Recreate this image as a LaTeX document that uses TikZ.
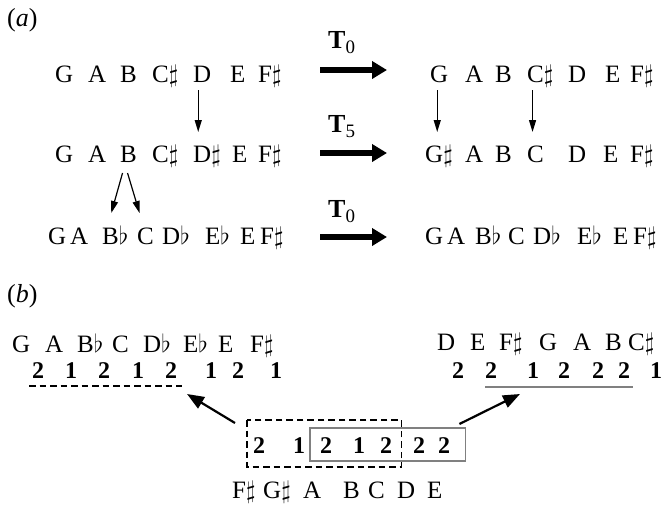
\documentclass[tikz,border=0pt]{standalone}
\usepackage{fontspec}
\setmainfont{Liberation Serif}
\usetikzlibrary{arrows.meta,calc}
\newcommand{\shp}{\ensuremath{\sharp}}
\newcommand{\flt}{\ensuremath{\flat}}
\newcommand{\notefont}{\fontsize{25}{30}\selectfont}
\newcommand{\numfont}{\fontsize{24}{28}\selectfont\bfseries}
\newcommand{\tlab}[1]{{\fontsize{26}{30}\selectfont\bfseries T}\raisebox{-5pt}{\fontsize{19}{20}\selectfont #1}}
\begin{document}
\begin{tikzpicture}[x=1pt,y=-1pt,
  nt/.style={font=\notefont, inner sep=0pt, anchor=base west},
  num/.style={font=\numfont, inner sep=0pt, anchor=base west},
  lab/.style={font=\fontsize{26}{30}\selectfont, inner sep=0pt, anchor=base west},
  thinarrow/.style={line width=1.2pt, -{Triangle[length=12pt,width=7pt]}},
  fatarrow/.style={line width=6pt, -{Triangle[length=15pt,width=17pt]}},
  diagarrow/.style={line width=2.2pt, -{Triangle[length=17pt,width=13pt]}},
  dashbox/.style={line width=1.4pt, dash pattern=on 6.5pt off 4pt},
  graybox/.style={line width=1.5pt, draw=gray}]
\useasboundingbox (0,0) rectangle (663,506);

% ---------- (a) ----------
\node[lab] (la) at (7,27) {(\textit{a})};

\foreach \n/\x/\t in {1/55/G,2/88/A,3/120/B,4/152/{C\shp},5/193/D,6/230/E,7/258/{F\shp}}
  \node[nt] (aL1-\n) at (\x,82) {\t};
\foreach \n/\x/\t in {1/55/G,2/88/A,3/120/B,4/152/{C\shp},5/193/{D\shp},6/232/E,7/258/{F\shp}}
  \node[nt] (aL2-\n) at (\x,162) {\t};
\foreach \n/\x/\t in {1/48/G,2/70/A,3/102/{B\flt},4/137/C,5/162/{D\flt},6/205/{E\flt},7/240/E,8/260/{F\shp}}
  \node[nt] (aL3-\n) at (\x,244) {\t};

\foreach \n/\x/\t in {1/430/G,2/465/A,3/495/B,4/527/{C\shp},5/568/D,6/605/E,7/630/{F\shp}}
  \node[nt] (aR1-\n) at (\x,82) {\t};
\foreach \n/\x/\t in {1/425/{G\shp},2/465/A,3/495/B,4/527/C,5/568/D,6/603/E,7/630/{F\shp}}
  \node[nt] (aR2-\n) at (\x,162) {\t};
\foreach \n/\x/\t in {1/425/G,2/447/A,3/475/{B\flt},4/508/C,5/533/{D\flt},6/577/{E\flt},7/613/E,8/633/{F\shp}}
  \node[nt] (aR3-\n) at (\x,244) {\t};

% transformation labels and arrows
\node[lab] (t1) at (328,48) {\tlab{0}};
\node[lab] (t2) at (328,132) {\tlab{5}};
\node[lab] (t3) at (328,217) {\tlab{0}};
\coordinate (f1s) at (320,70);  \coordinate (f1e) at (387,70);
\coordinate (f2s) at (320,153); \coordinate (f2e) at (387,153);
\coordinate (f3s) at (320,237); \coordinate (f3e) at (387,237);
\draw[fatarrow] (f1s) -- (f1e);
\draw[fatarrow] (f2s) -- (f2e);
\draw[fatarrow] (f3s) -- (f3e);

% small arrows
\draw[thinarrow] ($(aL1-5.base)+(-4,8)$) -- ($(aL1-5.base |- aL2-5.base)+(-4,-30)$);
\draw[thinarrow] ($(aL2-3.base)+(-6,11)$) -- ($(aL3-3.base)+(-4,-31)$);
\draw[thinarrow] ($(aL2-3.base)+(-1,11)$) -- ($(aL3-4.base)+(-6,-31)$);
\draw[thinarrow] ($(aR1-1.base)+(-2,8)$) -- ($(aR1-1.base |- aR2-1.base)+(-2,-30)$);
\draw[thinarrow] ($(aR2-4.base |- aR1-4.base)+(-3,8)$) -- ($(aR2-4.base)+(-3,-30)$);

% ---------- (b) ----------
\node[lab] (lb) at (7,302) {(\textit{b})};

\foreach \n/\x/\t in {1/12/G,2/45/A,3/77/{B\flt},4/112/C,5/143/{D\flt},6/183/{E\flt},7/218/E,8/250/{F\shp}}
  \node[nt] (bL-\n) at (\x,352) {\t};
\foreach \n/\x/\t in {1/32/2,2/65/1,3/98/2,4/132/1,5/165/2,6/205/1,7/232/2,8/270/1}
  \node[num] (bLn-\n) at (\x,378) {\t};

\foreach \n/\x/\t in {1/437/D,2/470/E,3/499/{F\shp},4/539/G,5/573/A,6/605/B,7/628/{C\shp}}
  \node[nt] (bR-\n) at (\x,350) {\t};
\foreach \n/\x/\t in {1/452/2,2/485/2,3/527/1,4/558/2,5/592/2,6/618/2,7/650/1}
  \node[num] (bRn-\n) at (\x,378) {\t};

\foreach \n/\x/\t in {1/253/2,2/293/1,3/320/2,4/353/1,5/380/2,6/413/2,7/438/2}
  \node[num] (bC-\n) at (\x,453) {\t};
\foreach \n/\x/\t in {1/232/{F\shp},2/263/{G\shp},3/303/A,4/343/B,5/368/C,6/397/D,7/427/E}
  \node[nt] (bB-\n) at (\x,498) {\t};

% underlines
\draw[dashbox] ($(bLn-1.base west)+(-3,8)$) -- ($(bLn-5.base east)+(5,8)$);
\draw[graybox] ($(bRn-2.base west)+(0,9)$) -- ($(bRn-6.base east)+(3,9)$);

% boxes
\draw[dashbox] ($(bC-1.base west)+(-6,-33)$) rectangle ($(bC-5.base east)+(9,14)$);
\draw[graybox] ($(bC-3.base west)+(-10,-25)$) rectangle ($(bC-7.base east)+(15,8)$);

% diagonal arrows
\coordinate (dl) at (187,394);
\coordinate (dr) at (520,394);
\draw[diagarrow] ($(bC-1.base west)+(-18,-30)$) -- (dl);
\draw[diagarrow] ($(bC-7.base east)+(9,-29)$) -- (dr);
\end{tikzpicture}
\end{document}
